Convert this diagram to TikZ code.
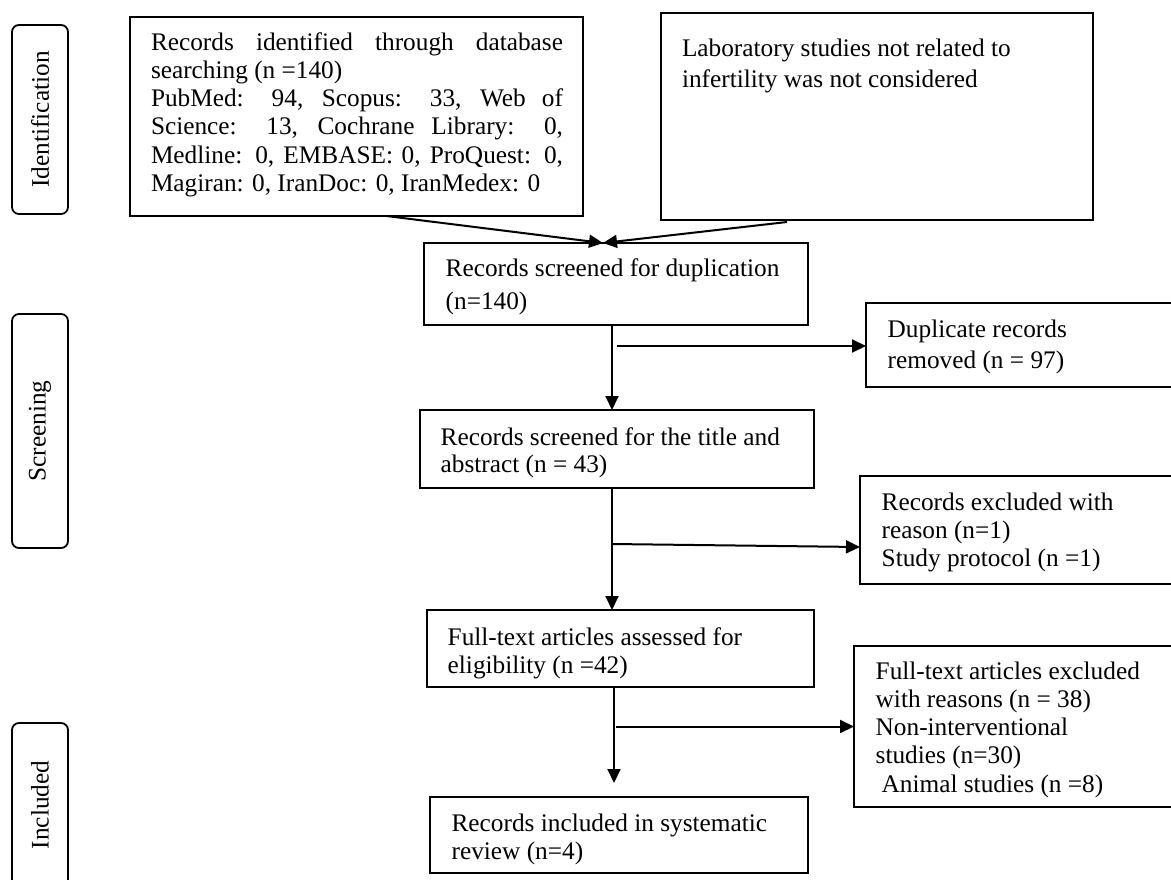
\documentclass[tikz,border=0pt]{standalone}
\usepackage{fontspec}
\setmainfont{Liberation Serif}
\usepackage{graphicx}
\usetikzlibrary{arrows.meta,calc}
\newcommand\bxtxt[6]{\parbox[t][#2][t]{#1}{\fontsize{25.3}{#5}\selectfont\raggedright\setlength\leftskip{#3}\vspace*{\dimexpr#4-0.7\baselineskip\relax}\strut #6}}
\begin{document}
\begin{tikzpicture}[x=1pt,y=-1pt,
  bx/.style={draw, line width=1.8pt, inner sep=0pt, outer sep=0pt, anchor=north west},
  phase/.style={draw, line width=1.8pt, rounded corners=7pt, inner sep=0pt, outer sep=0pt, minimum width=56pt, font=\fontsize{25.3}{28}\selectfont},
  arr/.style={line width=2pt, -{Triangle[length=14pt,width=13pt]}},
  ln/.style={line width=2pt}]
\useasboundingbox (0,0) rectangle (1171,879);
\clip (0,0) rectangle (1171,879);
% phase labels
\node[phase, minimum height=189pt] (pid) at (40,119.5) {\rotatebox{90}{Identification}};
\node[phase, minimum height=234pt] (psc) at (40,431) {\rotatebox{90}{Screening}};
\node[phase, minimum height=164pt] (pin) at (40,805) {\rotatebox{90}{Included}};
% boxes
\node[bx] (ident) at (130,17) {\bxtxt{453pt}{199pt}{21pt}{33pt}{28.3pt}{%
\makebox[412pt][s]{Records identified through database}\\
searching (n =140)\\
\makebox[412pt][s]{PubMed: 94, Scopus: 33, Web of}\\
\makebox[412pt][s]{Science: 13, Cochrane Library: 0,}\\
\makebox[412pt][s]{Medline: 0, EMBASE: 0, ProQuest: 0,}\\
Magiran: 0, IranDoc: 0, IranMedex: 0}};
\node[bx] (lab) at (661,13) {\bxtxt{432pt}{207pt}{21pt}{43pt}{31pt}{Laboratory studies not related to\\infertility was not considered}};
\node[bx] (dup) at (424,243) {\bxtxt{384pt}{82pt}{21.7pt}{33.7pt}{33pt}{Records screened for duplication\\(n=140)}};
\node[bx] (dupr) at (866,303) {\bxtxt{334pt}{84pt}{21.7pt}{34pt}{31pt}{Duplicate records\\removed (n = 97)}};
\node[bx] (title) at (420,410) {\bxtxt{394pt}{78pt}{20.7pt}{35pt}{27.7pt}{Records screened for the title and\\abstract (n = 43)}};
\node[bx] (excl1) at (860,476) {\bxtxt{340pt}{108pt}{21.7pt}{34pt}{28.3pt}{Records excluded with\\reason (n=1)\\Study protocol (n =1)}};
\node[bx] (full) at (427,610) {\bxtxt{387pt}{77pt}{20.7pt}{35pt}{28pt}{Full-text articles assessed for\\eligibility (n =42)}};
\node[bx] (excl2) at (854,646) {\bxtxt{346pt}{161pt}{21.7pt}{33pt}{28.3pt}{Full-text articles excluded\\with reasons (n = 38)\\Non-interventional\\studies (n=30)\\\hspace*{6pt}Animal studies (n =8)}};
\node[bx] (incl) at (430,797) {\bxtxt{378pt}{76pt}{21.6pt}{34.7pt}{27.7pt}{Records included in systematic\\review (n=4)}};
% connectors
\coordinate (a1) at ($(ident.south)+(30,0)$);
\coordinate (m1) at ($(dup.north)+(-13,0)$);
\coordinate (a2) at ($(lab.south)+(-90,2)$);
\draw[arr] (a1) -- (m1);
\draw[arr] (a2) -- (m1);
\coordinate (v1) at ($(dup.south)+(-4,0)$);
\draw[arr] (v1) -- (v1 |- title.north);
\path (v1 |- dupr.west) coordinate (b1p);
\draw[arr] ($(b1p)+(5,1)$) -- ($(dupr.west)+(0,1)$);
\coordinate (v2) at ($(title.south)+(-5,0)$);
\draw[arr] (v2) -- (v2 |- full.north);
\path (v2 |- excl1.west) coordinate (b2p);
\draw[arr] ($(b2p)+(0,14)$) -- ($(excl1.west)+(0,17)$);
\coordinate (v3) at ($(full.south)+(-6.5,0)$);
\coordinate (t3) at ($(v3)+(0,96)$);
\draw[arr] (v3) -- (t3);
\path (v3 |- excl2.west) coordinate (b3p);
\draw[arr] ($(b3p)+(2,0)$) -- (excl2.west);
\end{tikzpicture}
\end{document}
